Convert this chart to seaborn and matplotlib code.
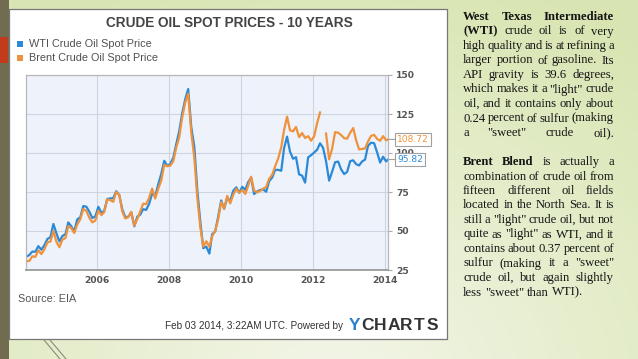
import numpy as np
import pandas as pd
import matplotlib
matplotlib.use('Agg')
import matplotlib.pyplot as plt
from matplotlib.patches import Rectangle
import seaborn as sns

nan = np.nan

# monthly spot prices, USD/barrel
wti_2004 = [33.5, 34.7, 36.8, 36.7, 40.3, 38.0, 40.8, 44.9, 46.0, 54.5, 48.5, 43.3]
wti_2005 = [46.8, 48.0, 55.5, 53.0, 49.8, 57.5, 58.7, 66.0, 65.6, 62.4, 58.3, 59.4]
wti_2006 = [65.5, 61.6, 62.9, 70.5, 70.9, 71.0, 75.5, 73.0, 63.8, 58.9, 59.1, 62.0]
wti_2007 = [53.0, 59.3, 60.4, 64.0, 63.5, 67.5, 74.1, 72.4, 79.9, 86.5, 95.0, 91.7]
wti_2008 = [93.0, 97.0, 105.5, 114.0, 125.4, 134.5, 141.0, 116.7, 104.1, 76.6, 56.0, 39.0]
wti_2009 = [40.0, 35.5, 47.9, 49.7, 59.0, 69.6, 64.2, 71.1, 69.4, 75.7, 78.0, 74.5]
wti_2010 = [78.3, 76.4, 81.2, 84.3, 73.7, 75.3, 76.3, 76.6, 75.2, 81.9, 84.3, 89.2]
wti_2011 = [89.2, 88.6, 102.9, 110.5, 100.9, 96.3, 97.3, 86.3, 85.5, 81.0, 97.2, 98.6]
wti_2012 = [100.3, 102.2, 106.2, 103.3, 94.7, 82.3, 87.9, 94.1, 94.5, 89.5, 86.5, 87.9]
wti_2013 = [94.8, 95.3, 92.9, 92.0, 94.5, 95.8, 104.6, 106.6, 106.3, 100.5, 93.9, 97.6]
wti_2014 = [94.6, 95.82]

brent_2004 = [30.5, 30.9, 33.8, 33.4, 37.6, 35.2, 38.2, 42.7, 43.2, 50.0, 43.1, 39.6]
brent_2005 = [44.5, 45.5, 53.1, 51.9, 48.7, 54.3, 57.5, 64.1, 62.9, 58.5, 55.5, 56.7]
brent_2006 = [63.0, 60.2, 62.1, 70.3, 69.8, 68.7, 75.0, 73.2, 62.5, 58.0, 58.9, 62.2]
brent_2007 = [53.5, 57.8, 62.4, 67.5, 67.2, 71.3, 77.2, 70.8, 77.1, 82.3, 92.5, 91.5]
brent_2008 = [91.9, 94.8, 103.3, 110.2, 122.8, 132.3, 138.0, 113.2, 97.2, 71.6, 52.5, 40.0]
brent_2009 = [43.4, 40.0, 46.5, 50.2, 57.3, 68.6, 64.4, 72.5, 67.7, 73.2, 77.0, 74.7]
brent_2010 = [76.2, 73.8, 78.8, 84.8, 75.9, 74.8, 75.6, 77.1, 78.2, 83.5, 86.1, 91.5]
brent_2011 = [96.5, 103.7, 114.6, 123.3, 114.5, 113.9, 116.7, 110.2, 112.8, 109.6, 110.8, 107.9]
brent_2012 = [110.7, 119.3, 126.0, nan, 112.5, 96.0, 102.6, 113.4, 113.0, 111.5, 109.5, 109.2]
brent_2013 = [113.0, 116.0, 108.5, 102.3, 102.6, 102.9, 107.4, 111.0, 111.6, 109.1, 107.8, 110.8]
brent_2014 = [108.1, 108.72]

wti = (wti_2004 + wti_2005 + wti_2006 + wti_2007 + wti_2008 + wti_2009 +
       wti_2010 + wti_2011 + wti_2012 + wti_2013 + wti_2014)
brent = (brent_2004 + brent_2005 + brent_2006 + brent_2007 + brent_2008 + brent_2009 +
         brent_2010 + brent_2011 + brent_2012 + brent_2013 + brent_2014)
months = pd.date_range('2004-01-01', '2014-01-01', freq='MS') + pd.Timedelta(days=14)
dates = list(months) + [pd.Timestamp('2014-02-03')]

year_ticks = [2006, 2008, 2010, 2012, 2014]
price_ticks = [25, 50, 75, 100, 125, 150]
labels = ['WTI Crude Oil Spot Price', 'Brent Crude Oil Spot Price']
colors = ['#2b8ad8', '#f0923b']

df = pd.DataFrame({'date': dates, 'WTI': wti, 'Brent': brent})
df['seg'] = df['Brent'].isna().cumsum()

fig = plt.figure(figsize=(6.38, 3.59), dpi=100)

# slide background in pixel coordinates
bg = fig.add_axes([0, 0, 1, 1], zorder=0)
yy, xx = np.mgrid[0:359, 0:638]
d = np.clip(np.sqrt(((xx - 330) / 520.0) ** 2 + ((yy - 390) / 430.0) ** 2), 0, 1)
inner = np.array([0.955, 0.965, 0.915])
outer = np.array([0.85, 0.9, 0.7])
bg.imshow(inner + (outer - inner) * d[..., None], extent=(0, 638, 359, 0), aspect='auto')
bg.set_xlim(0, 638)
bg.set_ylim(359, 0)
bg.axis('off')

bg.add_patch(Rectangle((0, 0), 9, 359, fc='#716b4f', ec='none'))
bg.add_patch(Rectangle((0, 37), 8, 26, fc='#c23b1a', ec='none'))
bg.plot([44, 60], [340, 359], color='#8a8a7a', lw=0.8)
bg.plot([50, 66], [340, 359], color='#8a8a7a', lw=0.8)
bg.add_patch(Rectangle((9, 9), 438, 330, fc='white', ec='#777777', lw=0.9))

bg.text(229, 23, 'CRUDE OIL SPOT PRICES - 10 YEARS', ha='center', va='center',
        fontsize=9.8, weight='bold', color='#444444', family='Liberation Sans')
for i, (lab, c) in enumerate(zip(labels, colors)):
    y = 44 + 14 * i
    bg.add_patch(Rectangle((16.5, y - 3), 6, 6, fc=c, ec='none'))
    bg.text(29, y, lab, ha='left', va='center', fontsize=7.8,
            color='#505050', family='Liberation Sans')

bg.text(18, 299, 'Source: EIA', ha='left', va='center', fontsize=7.8,
        color='#555555', family='Liberation Sans')
bg.text(343, 326, 'Feb 03 2014, 3:22AM UTC. Powered by', ha='right', va='center',
        fontsize=7.2, color='#333333', family='Liberation Sans')
for i, ch in enumerate('YCHARTS'):
    bg.text(354.5 + 13 * i, 325, ch, ha='center', va='center', fontsize=12.5,
            weight='bold', color='#2b7fd0' if i == 0 else '#333333', family='Liberation Sans')

# justified text column
para = [
    [('West', 1), ('Texas', 1), ('Intermediate', 1)],
    [('(WTI)', 1), ('crude', 0), ('oil', 0), ('is', 0), ('of', 0), ('very', 0)],
    [(w, 0) for w in 'high quality and is at refining a'.split()],
    [(w, 0) for w in 'larger portion of gasoline. Its'.split()],
    [(w, 0) for w in 'API gravity is 39.6 degrees,'.split()],
    [(w, 0) for w in 'which makes it a "light" crude'.split()],
    [(w, 0) for w in 'oil, and it contains only about'.split()],
    [(w, 0) for w in '0.24 percent of sulfur (making'.split()],
    [(w, 0) for w in 'a "sweet" crude oil).'.split()],
    None,
    [('Brent', 1), ('Blend', 1), ('is', 0), ('actually', 0), ('a', 0)],
    [(w, 0) for w in 'combination of crude oil from'.split()],
    [(w, 0) for w in 'fifteen different oil fields'.split()],
    [(w, 0) for w in 'located in the North Sea. It is'.split()],
    [(w, 0) for w in 'still a "light" crude oil, but not'.split()],
    [(w, 0) for w in 'quite as "light" as WTI, and it'.split()],
    [(w, 0) for w in 'contains about 0.37 percent of'.split()],
    [(w, 0) for w in 'sulfur (making it a "sweet"'.split()],
    [(w, 0) for w in 'crude oil, but again slightly'.split()],
    [(w, 0) for w in 'less "sweet" than WTI).'.split()],
]
r = fig.canvas.get_renderer()
x0, x1 = 463, 614
for i, line in enumerate(para):
    if line is None:
        continue
    y = 17 + 14.5 * i
    arts = [bg.text(0, y, w, ha='left', va='center', fontsize=9.1, color='#151515',
                    family='Liberation Serif', weight='bold' if b else 'normal')
            for w, b in line]
    widths = [t.get_window_extent(renderer=r).width for t in arts]
    last = i == len(para) - 1
    gap = 3.0 if last else (x1 - x0 - sum(widths)) / (len(arts) - 1)
    x = x0
    for t, w in zip(arts, widths):
        t.set_x(x)
        x += w + gap

# chart
ax = fig.add_axes([26 / 638, 89 / 359, 362 / 638, 195 / 359], zorder=2)
ax.set_facecolor('#edf2fb')
sns.lineplot(data=df, x='date', y='WTI', color=colors[0], lw=1.6, ax=ax)
sns.lineplot(data=df.dropna(), x='date', y='Brent', units='seg', estimator=None,
             color=colors[1], lw=1.6, ax=ax)
ax.set_xlim(pd.Timestamp('2004-01-11'), pd.Timestamp('2014-02-03'))
ax.set_ylim(25, 150)
ax.set_xticks([pd.Timestamp(f'{y}-01-01') for y in year_ticks])
ax.set_xticklabels([str(y) for y in year_ticks])
ax.set_yticks(price_ticks)
ax.yaxis.tick_right()
ax.set_xlabel('')
ax.set_ylabel('')
ax.grid(True, color='#cdd5e2', lw=0.8)
ax.set_axisbelow(True)
ax.tick_params(axis='x', length=0, pad=4, labelsize=6.6, labelcolor='#555555')
ax.tick_params(axis='y', length=3, pad=3, color='#aaaaaa', labelsize=6.6,
               labelcolor='#555555', right=True, left=False)
for lab in ax.get_xticklabels() + ax.get_yticklabels():
    lab.set_fontweight('bold')
    lab.set_family('DejaVu Sans')
for s in ax.spines.values():
    s.set_color('#b8b8b8')
    s.set_linewidth(0.9)
ax.spines['bottom'].set_color('#9a9a9a')
ax.spines['bottom'].set_linewidth(1.3)

for val, c in [(brent[-1], colors[1]), (wti[-1], colors[0])]:
    ax.annotate(f'{val:.2f}', xy=(1, val), xycoords=('axes fraction', 'data'),
                xytext=(9, 0), textcoords='offset pixels', ha='left', va='center',
                fontsize=6.6, color=c, family='DejaVu Sans', annotation_clip=False,
                bbox=dict(boxstyle='square,pad=0.18', fc='white', ec='#a0a0a0', lw=0.8),
                arrowprops=dict(arrowstyle='-', color='#a0a0a0', lw=0.8,
                                shrinkA=0, shrinkB=0), zorder=5)

fig.savefig('out.png', dpi=100)
